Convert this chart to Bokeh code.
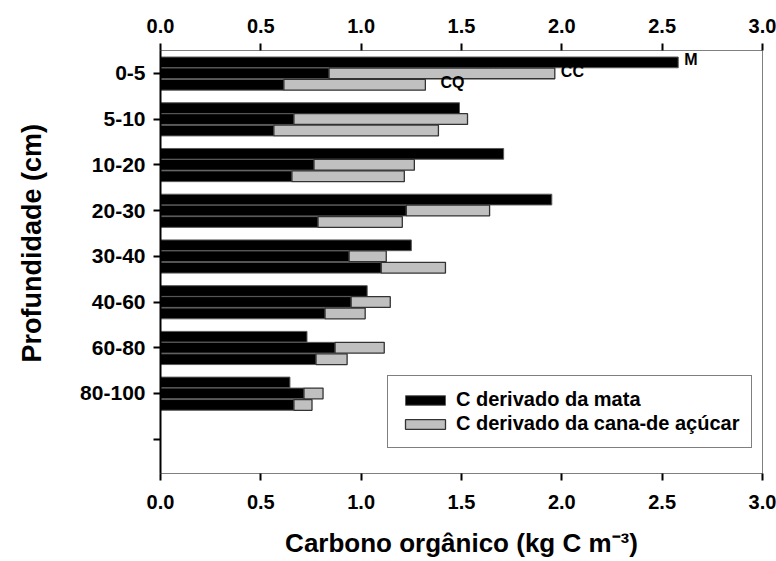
from bokeh.plotting import figure
from bokeh.models import (Range1d, LinearAxis, FixedTicker, NumeralTickFormatter,
                          Legend, LegendItem)
from bokeh.core.properties import value
from bokeh.embed import file_html
from bokeh.resources import INLINE

# ---------------- data ----------------
depths = ["0-5", "5-10", "10-20", "20-30", "30-40", "40-60", "60-80", "80-100"]
# M : only forest-derived C
m_mata = [2.58, 1.49, 1.71, 1.95, 1.25, 1.03, 0.73, 0.645]
# CC : forest-derived + sugarcane-derived
cc_mata = [0.84, 0.665, 0.765, 1.225, 0.94, 0.95, 0.87, 0.715]
cc_cana = [1.125, 0.865, 0.50, 0.415, 0.185, 0.195, 0.245, 0.095]
# CQ : forest-derived + sugarcane-derived
cq_mata = [0.615, 0.565, 0.655, 0.785, 1.10, 0.82, 0.775, 0.665]
cq_cana = [0.705, 0.82, 0.56, 0.42, 0.32, 0.20, 0.155, 0.09]
x_ticks = [0.0, 0.5, 1.0, 1.5, 2.0, 2.5, 3.0]
series_names = ["M", "CC", "CQ"]
legend_labels = ["C derivado da mata", "C derivado da cana-de açúcar"]
hidden_label = "NV"
x_title = "Carbono orgânico (kg C m⁻³)"
y_title = "Profundidade (cm)"

FONT = "Liberation Sans"
n = len(depths)
ypos = list(range(1, n + 1))
off_m, off_cc, off_cq = -0.24, 0.0, 0.25
bh = 0.235

p = figure(width=776, height=561, output_backend="svg", toolbar_location=None,
           x_range=Range1d(0, 3), y_range=Range1d(9.75, 0.5),
           x_axis_location=None, y_axis_location=None)
p.min_border_left = 160
p.min_border_right = 14
p.min_border_top = 50
p.min_border_bottom = 88
p.xgrid.visible = False
p.ygrid.visible = False
p.outline_line_color = "#808080"
p.outline_line_width = 1
p.background_fill_color = "white"
p.border_fill_color = "white"

# partially hidden label (drawn first, under the bars)
p.text(x=[m_mata[0] - 1.005], y=[1 - 0.09], text=[hidden_label],
       text_font=value(FONT), text_font_style="bold", text_font_size="16px",
       text_baseline="middle", text_align="left", text_color="black")

black_kw = dict(fill_color="black", line_color="#5a5a5a", line_width=1)
gray_kw = dict(fill_color="#c0c0c0", line_color="#333333", line_width=1.3)

r_black = p.hbar(y=[v + off_m for v in ypos], left=0, right=m_mata, height=bh, **black_kw)
p.hbar(y=[v + off_cc for v in ypos], left=0, right=cc_mata, height=bh, **black_kw)
p.hbar(y=[v + off_cq for v in ypos], left=0, right=cq_mata, height=bh, **black_kw)
r_gray = p.hbar(y=[v + off_cc for v in ypos], left=cc_mata,
                right=[a + b for a, b in zip(cc_mata, cc_cana)], height=bh, **gray_kw)
p.hbar(y=[v + off_cq for v in ypos], left=cq_mata,
       right=[a + b for a, b in zip(cq_mata, cq_cana)], height=bh, **gray_kw)

# series labels next to the 0-5 bars
lab_x = [m_mata[0] + 0.03, cc_mata[0] + cc_cana[0] + 0.03, cq_mata[0] + cq_cana[0] + 0.075]
lab_y = [1 - 0.3, 1 - 0.03, 1 + 0.2]
p.text(x=lab_x, y=lab_y, text=series_names,
       text_font=value(FONT), text_font_style="bold", text_font_size="16px",
       text_baseline="middle", text_align="left", text_color="black")

# ---------------- axes ----------------
def style_x(ax, standoff):
    ax.ticker = FixedTicker(ticks=x_ticks)
    ax.formatter = NumeralTickFormatter(format="0.0")
    ax.minor_tick_line_color = None
    ax.major_tick_in = 0
    ax.major_tick_out = 7
    ax.major_tick_line_width = 2
    ax.major_tick_line_color = "black"
    ax.axis_line_color = "#808080"
    ax.axis_line_width = 1
    ax.major_label_text_font = FONT
    ax.major_label_text_font_style = "bold"
    ax.major_label_text_font_size = "20px"
    ax.major_label_text_color = "black"
    ax.major_label_standoff = standoff

def style_title(ax, size, standoff):
    ax.axis_label_text_font = FONT
    ax.axis_label_text_font_style = "bold"
    ax.axis_label_text_font_size = size
    ax.axis_label_text_color = "black"
    ax.axis_label_standoff = standoff

bottom = LinearAxis(axis_label=x_title)
style_x(bottom, 14)
style_title(bottom, "26px", 16)
p.add_layout(bottom, "below")

top = LinearAxis()
style_x(top, 11)
p.add_layout(top, "above")

# leading no-break spaces shift the centred title up, as in the reference
left = LinearAxis(axis_label="\u00a0" * 5 + y_title)
left.ticker = FixedTicker(ticks=ypos + [n + 1])
left.major_label_overrides = {i + 1: d for i, d in enumerate(depths)}
left.major_label_overrides[n + 1] = ""
left.minor_tick_line_color = None
left.major_tick_in = 0
left.major_tick_out = 7
left.major_tick_line_width = 2
left.major_tick_line_color = "black"
left.axis_line_color = "black"
left.axis_line_width = 2
left.major_label_text_font = FONT
left.major_label_text_font_style = "bold"
left.major_label_text_font_size = "21px"
left.major_label_text_color = "black"
left.major_label_standoff = 8
style_title(left, "27px", 30)
p.add_layout(left, "left")

# ---------------- legend ----------------
legend = Legend(items=[LegendItem(label=legend_labels[0], renderers=[r_black]),
                       LegendItem(label=legend_labels[1], renderers=[r_gray])],
                location=(227, 25))
legend.border_line_color = "black"
legend.border_line_width = 1
legend.background_fill_color = "white"
legend.background_fill_alpha = 1
legend.padding = 12
legend.spacing = 1
legend.margin = 0
legend.glyph_width = 50
legend.glyph_height = 12
legend.label_height = 23
legend.label_standoff = 6
legend.label_text_font = FONT
legend.label_text_font_style = "bold"
legend.label_text_font_size = "20px"
legend.label_text_color = "black"
p.add_layout(legend, "center")

open("out.html", "w").write(file_html(p, INLINE))
